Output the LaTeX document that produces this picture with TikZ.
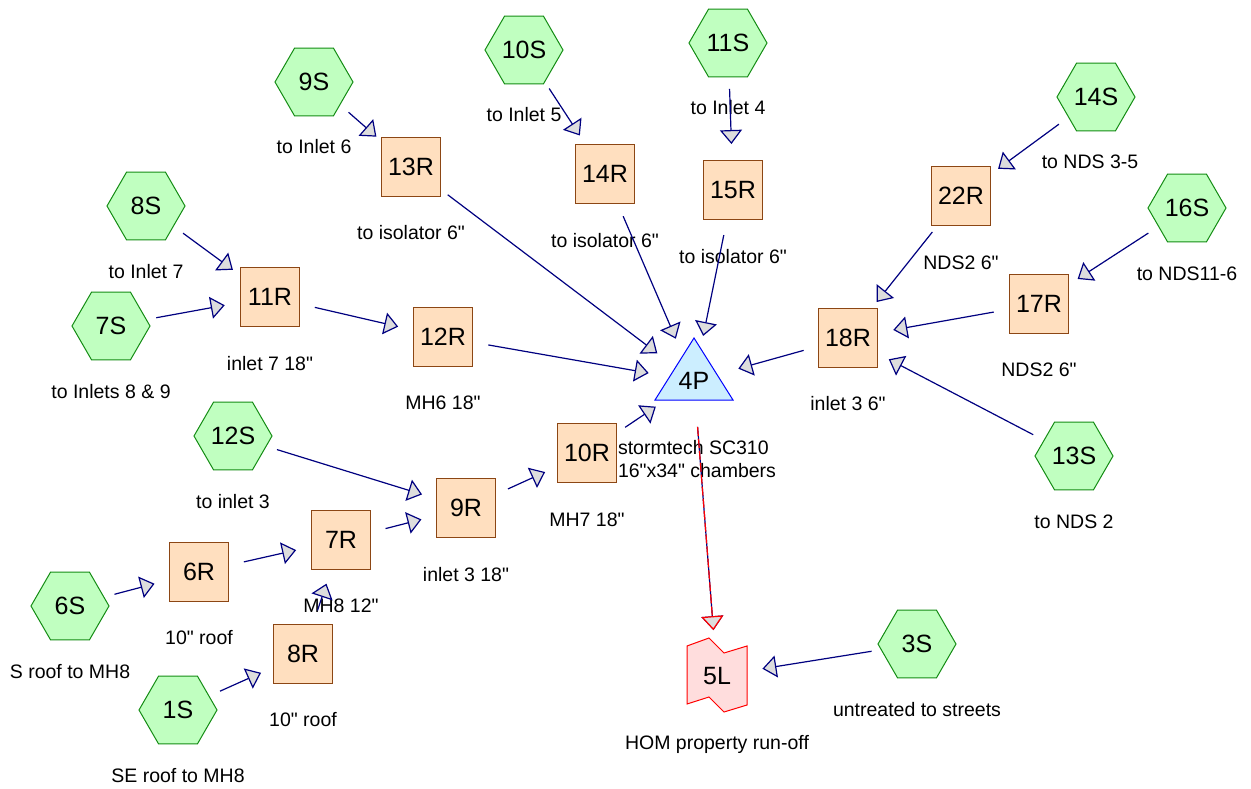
\documentclass[tikz,border=0pt]{standalone}
\usepackage{fontspec}
\setmainfont{Liberation Sans}
\usetikzlibrary{arrows.meta,shapes.geometric}
\definecolor{navy}{RGB}{0,0,128}
\definecolor{tipgray}{RGB}{221,221,221}
\definecolor{wsfill}{RGB}{192,255,192}
\definecolor{wsdraw}{RGB}{20,140,20}
\definecolor{rfill}{RGB}{255,223,191}
\definecolor{rdraw}{RGB}{140,70,20}
\definecolor{pfill}{RGB}{204,238,255}
\definecolor{lfill}{RGB}{255,221,221}
\newcommand{\inch}{\textquotedbl}

\begin{document}
\begin{tikzpicture}[x=1pt,y=-1pt,>={Triangle[length=14pt,width=22pt,fill=tipgray]},
 ws/.style={regular polygon,regular polygon sides=6,minimum size=78pt,inner sep=0pt,
  draw=wsdraw,fill=wsfill,line width=1pt,font=\fontsize{25}{28}\selectfont},
 reach/.style={rectangle,minimum width=59pt,minimum height=59pt,inner sep=0pt,
  draw=rdraw,fill=rfill,line width=1pt,font=\fontsize{25}{28}\selectfont},
 bare/.style={inner sep=0pt,font=\fontsize{25}{28}\selectfont},
 lbl/.style={inner sep=0pt,text height=14pt,text depth=4pt,font=\fontsize{19.5}{23}\selectfont},
 flow/.style={->,navy,line width=1.2pt,shorten <=46pt,shorten >=46pt}]
 \useasboundingbox (0,0) rectangle (1251,789);

 \node[ws] (s9) at (314,82) {9S};
 \node[ws] (s10) at (524,50) {10S};
 \node[ws] (s11) at (728,43) {11S};
 \node[ws] (s14) at (1096,97) {14S};
 \node[ws] (s8) at (146,206) {8S};
 \node[ws] (s16) at (1187,208) {16S};
 \node[ws] (s7) at (111,326) {7S};
 \node[ws] (s12) at (233,436) {12S};
 \node[ws] (s13) at (1074,456) {13S};
 \node[ws] (s6) at (70,606) {6S};
 \node[ws] (s3) at (917,644) {3S};
 \node[ws] (s1) at (178,710) {1S};

 \node[reach] (r13) at (411,167) {13R};
 \node[reach] (r14) at (605,174) {14R};
 \node[reach] (r15) at (733,190) {15R};
 \node[reach] (r22) at (961,196) {22R};
 \node[reach] (r11) at (270,297) {11R};
 \node[reach] (r17) at (1039,304) {17R};
 \node[reach] (r12) at (443,337) {12R};
 \node[reach] (r18) at (848,338) {18R};
 \node[reach] (r10) at (587,453) {10R};
 \node[reach] (r9) at (466,508) {9R};
 \node[reach] (r7) at (341,540) {7R};
 \node[reach] (r6) at (199,572) {6R};
 \node[reach] (r8) at (303,654) {8R};

 \draw[draw=blue,fill=pfill,line width=1pt,shift={(694,381)}] (0,-43) -- (39,19) -- (-39,19) -- cycle;
 \node[bare] (p4) at (694,381) {4P};
 \draw[draw=red,fill=lfill,line width=1pt,shift={(717,676)}] (-30,-30) -- (-8,-38) -- (7,-23)
  -- (30,-30) -- (30,29) -- (7,36) -- (-8,21) -- (-30,28) -- cycle;
 \node[bare] (l5) at (717,676) {5L};

 \node[lbl] (t9) at ([yshift=-67pt]s9.center) {to Inlet 6};
 \node[lbl] (t10) at ([yshift=-67pt]s10.center) {to Inlet 5};
 \node[lbl] (t11) at ([yshift=-67pt]s11.center) {to Inlet 4};
 \node[lbl] (t14) at ([yshift=-67pt,xshift=-6pt]s14.center) {to NDS 3-5};
 \node[lbl] (t8) at ([yshift=-67pt]s8.center) {to Inlet 7};
 \node[lbl] (t16) at ([yshift=-67pt]s16.center) {to NDS11-6};
 \node[lbl] (t7) at ([yshift=-67pt]s7.center) {to Inlets 8 \& 9};
 \node[lbl] (t12) at ([yshift=-67pt]s12.center) {to inlet 3};
 \node[lbl] (t13) at ([yshift=-67pt]s13.center) {to NDS 2};
 \node[lbl] (t6) at ([yshift=-67pt]s6.center) {S roof to MH8};
 \node[lbl] (t3) at ([yshift=-67pt]s3.center) {untreated to streets};
 \node[lbl] (t1) at ([yshift=-67pt]s1.center) {SE roof to MH8};
 \node[lbl] (u13) at ([yshift=-68pt]r13.center) {to isolator 6\inch};
 \node[lbl] (u14) at ([yshift=-68pt]r14.center) {to isolator 6\inch};
 \node[lbl] (u15) at ([yshift=-68pt]r15.center) {to isolator 6\inch};
 \node[lbl] (u22) at ([yshift=-68pt]r22.center) {NDS2 6\inch};
 \node[lbl] (u11) at ([yshift=-68pt]r11.center) {inlet 7 18\inch};
 \node[lbl] (u17) at ([yshift=-67pt]r17.center) {NDS2 6\inch};
 \node[lbl] (u12) at ([yshift=-67pt]r12.center) {MH6 18\inch};
 \node[lbl] (u18) at ([yshift=-67pt]r18.center) {inlet 3 6\inch};
 \node[lbl] (u10) at ([yshift=-68pt]r10.center) {MH7 18\inch};
 \node[lbl] (u9) at ([yshift=-68pt]r9.center) {inlet 3 18\inch};
 \node[lbl] (u7) at ([yshift=-67pt]r7.center) {MH8 12\inch};
 \node[lbl] (u6) at ([yshift=-67pt]r6.center) {10\inch{} roof};
 \node[lbl] (u8) at ([yshift=-67pt]r8.center) {10\inch{} roof};
 \node[lbl,align=left] (v4) at (697,472) {stormtech SC310\\16\inch x34\inch{} chambers};
 \node[lbl] (w5) at ([yshift=-68pt]l5.center) {HOM property run-off};

 \draw[flow] (s9.center) -- (r13.center);
 \draw[flow] (s10.center) -- (r14.center);
 \draw[flow] (s11.center) -- (r15.center);
 \draw[flow] (s14.center) -- (r22.center);
 \draw[flow] (s8.center) -- (r11.center);
 \draw[flow] (s7.center) -- (r11.center);
 \draw[flow] (r11.center) -- (r12.center);
 \draw[flow] (s16.center) -- (r17.center);
 \draw[flow] (r22.center) -- (r18.center);
 \draw[flow] (r17.center) -- (r18.center);
 \draw[flow] (s13.center) -- (r18.center);
 \draw[flow] (r13.center) -- (p4.center);
 \draw[flow] (r14.center) -- (p4.center);
 \draw[flow] (r15.center) -- (p4.center);
 \draw[flow] (r12.center) -- (p4.center);
 \draw[flow] (r18.center) -- (p4.center);
 \draw[flow] (r10.center) -- (p4.center);
 \draw[flow] (s12.center) -- (r9.center);
 \draw[flow] (r9.center) -- (r10.center);
 \draw[flow] (r7.center) -- (r9.center);
 \draw[flow] (r6.center) -- (r7.center);
 \draw[flow] (s6.center) -- (r6.center);
 \draw[flow] (r8.center) -- (r7.center);
 \draw[flow] (s1.center) -- (r8.center);
 \draw[flow] (s3.center) -- (l5.center);
 \draw[flow] (p4.center) -- (l5.center);
 \draw[flow,red,dash pattern=on 9pt off 3pt] (p4.center) -- (l5.center);
\end{tikzpicture}
\end{document}
